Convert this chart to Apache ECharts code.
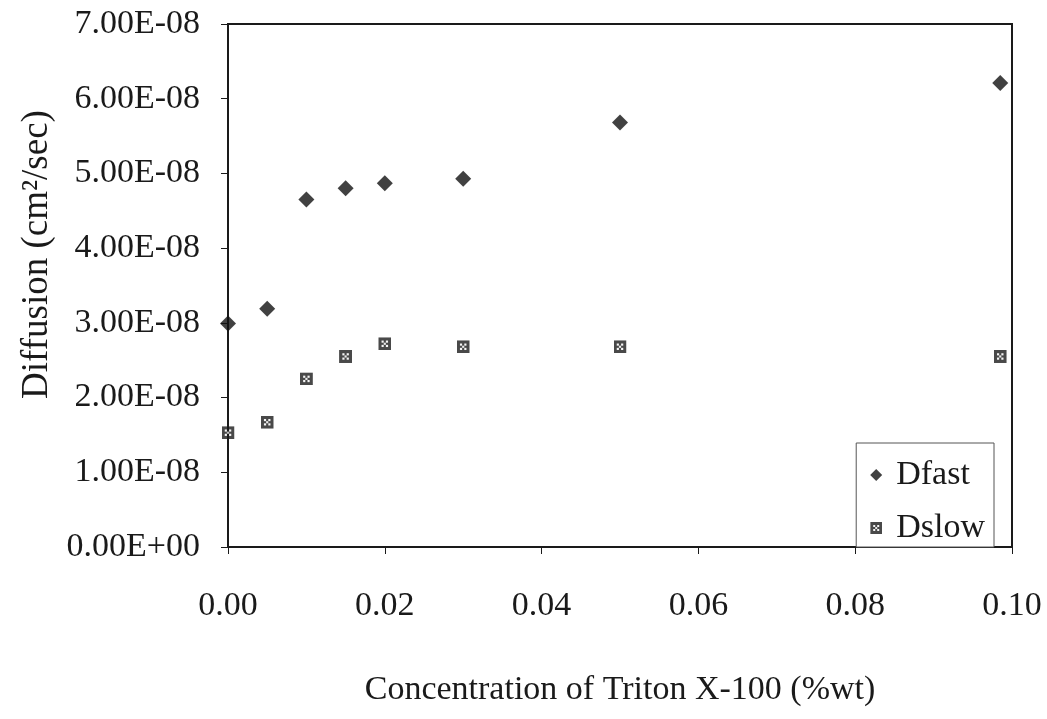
<!DOCTYPE html>
<html>
<head>
<meta charset="utf-8">
<script src="https://cdn.jsdelivr.net/npm/echarts@6/dist/echarts.min.js"></script>
<style>
  html, body { margin: 0; padding: 0; background: #fff; }
  #chart { width: 1047px; height: 719px; }
</style>
</head>
<body>
<div id="chart"></div>
<script>
// Concentration of Triton X-100 (%wt)
const concentration = [0.000, 0.005, 0.010, 0.015, 0.020, 0.030, 0.050, 0.0985];
// Diffusion coefficients (cm^2/sec)
const dFast = [2.99e-8, 3.19e-8, 4.65e-8, 4.80e-8, 4.87e-8, 4.93e-8, 5.68e-8, 6.21e-8];
const dSlow = [1.53e-8, 1.67e-8, 2.25e-8, 2.55e-8, 2.72e-8, 2.68e-8, 2.68e-8, 2.55e-8];
const seriesNames = ['Dfast', 'Dslow'];
const xTitle = 'Concentration of Triton X-100 (%wt)';
const yTitle = 'Diffusion (cm²/sec)';

const FONT = '"Liberation Serif", "Times New Roman", serif';
const INK = '#1a1a1a';

// speckled dark square marker for the slow component
const slowSvg =
  "<svg xmlns='http://www.w3.org/2000/svg' width='12' height='12'>" +
  "<rect width='12' height='12' fill='#1c1c1c'/>" +
  "<rect x='3' y='3' width='2' height='2' fill='#f4f4f4'/>" +
  "<rect x='7' y='3' width='2' height='2' fill='#f4f4f4'/>" +
  "<rect x='5' y='5' width='2' height='2' fill='#e6e6e6'/>" +
  "<rect x='3' y='7' width='2' height='2' fill='#f4f4f4'/>" +
  "<rect x='7' y='7' width='2' height='2' fill='#f4f4f4'/>" +
  "</svg>";
const slowSymbol = 'image://data:image/svg+xml;charset=utf-8,' + encodeURIComponent(slowSvg);

function pairs(xs, ys) { return xs.map((x, i) => [x, ys[i]]); }

function sci(v) {
  if (Math.abs(v) < 1e-20) return '0.00E+00';
  const s = v.toExponential(2);           // e.g. "7.00e-8"
  const m = s.match(/^(-?[\d.]+)e([+-])(\d+)$/);
  return m[1] + 'E' + m[2] + m[3].padStart(2, '0');
}

const chart = echarts.init(document.getElementById('chart'), null, { renderer: 'canvas' });
chart.setOption({
  backgroundColor: '#fff',
  animation: false,
  grid: {
    left: 228, top: 24, right: 35, bottom: 172,
    show: true, borderColor: INK, borderWidth: 2, backgroundColor: 'transparent'
  },
  legend: {
    orient: 'vertical',
    right: 53, top: 443,
    padding: [15, 9, 2, 14],
    itemGap: 19,
    itemWidth: 12, itemHeight: 12,
    borderColor: '#555', borderWidth: 1, backgroundColor: '#fff',
    textStyle: { fontFamily: FONT, fontSize: 34, color: INK, padding: [0, 0, 0, 9] },
    data: [
      { name: seriesNames[0], icon: 'diamond' },
      { name: seriesNames[1], icon: slowSymbol }
    ]
  },
  xAxis: {
    type: 'value',
    min: 0, max: 0.1, interval: 0.02,
    name: xTitle,
    nameLocation: 'middle',
    nameGap: 126,
    nameTextStyle: { fontFamily: FONT, fontSize: 34, color: INK },
    axisLine: { show: true, lineStyle: { color: INK, width: 2 } },
    axisTick: { show: true, length: 7, lineStyle: { color: INK, width: 1 } },
    axisLabel: {
      margin: 42, fontFamily: FONT, fontSize: 34, color: INK,
      formatter: v => v.toFixed(2)
    },
    splitLine: { show: false }
  },
  yAxis: {
    type: 'value',
    min: 0, max: 7e-8, interval: 1e-8,
    name: yTitle,
    nameLocation: 'middle',
    nameGap: 171,
    nameRotate: 90,
    // extra leading padding lifts the rotated title above the axis midpoint
    nameTextStyle: { fontFamily: FONT, fontSize: 37, color: INK, padding: [0, 0, 0, 62] },
    axisLine: { show: true, lineStyle: { color: INK, width: 2 } },
    axisTick: { show: true, length: 7, lineStyle: { color: INK, width: 1 } },
    axisLabel: {
      margin: 28, fontFamily: FONT, fontSize: 34, color: INK,
      formatter: v => sci(v)
    },
    splitLine: { show: false }
  },
  series: [
    {
      name: seriesNames[0],
      type: 'scatter',
      symbol: 'diamond',
      symbolSize: 16,
      itemStyle: { color: '#111' },
      clip: false,
      data: pairs(concentration, dFast)
    },
    {
      name: seriesNames[1],
      type: 'scatter',
      symbol: slowSymbol,
      symbolSize: 13,
      clip: false,
      data: pairs(concentration, dSlow)
    }
  ]
});
</script>
</body>
</html>
